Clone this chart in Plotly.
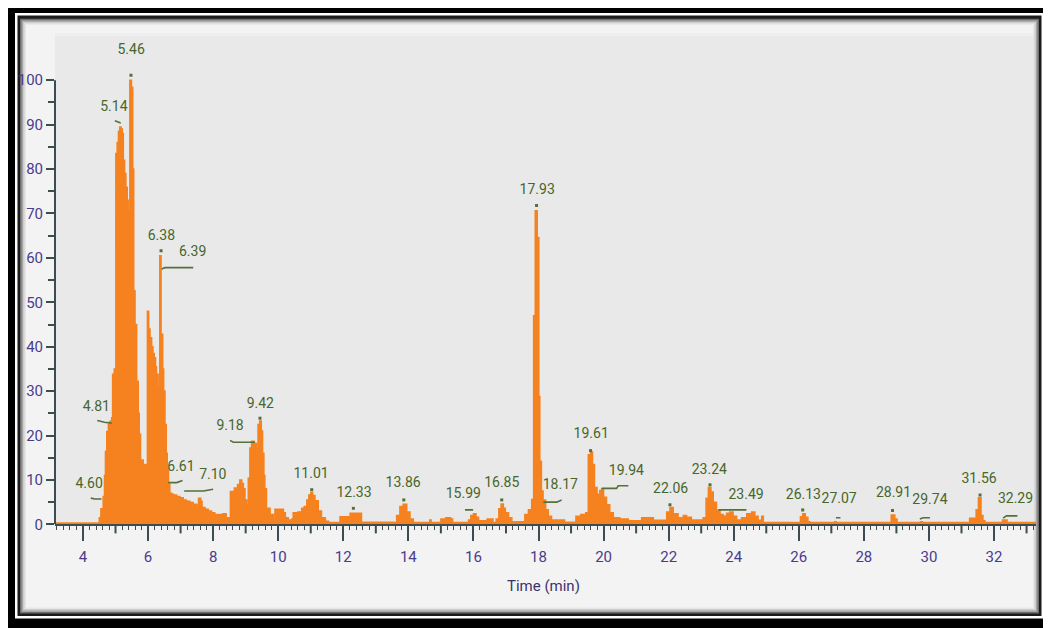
import plotly.graph_objects as go

# calibration of the page: 8px body margin, slight vertical scaling of the screenshot
OX, OY, SY = 8.0, 7.9, 0.9828
W, H = 1043, 632

# ---------------- data ----------------
rt_min = [3.14, 4.45, 4.50, 4.55, 4.62, 4.66, 4.69, 4.73, 4.78, 4.83, 4.88, 4.91, 4.96,
          5.01, 5.05, 5.09, 5.13, 5.17, 5.21, 5.24, 5.28, 5.32, 5.36, 5.39, 5.44, 5.49,
          5.53, 5.56, 5.60, 5.65, 5.70, 5.73, 5.77, 5.81, 5.85, 5.90, 5.94, 5.98, 6.02,
          6.06, 6.11, 6.15, 6.19, 6.23, 6.26, 6.31, 6.36, 6.40, 6.45, 6.48, 6.52, 6.56,
          6.59, 6.63, 6.67, 6.73, 6.78, 6.88, 6.98, 7.08, 7.18, 7.29, 7.39, 7.49, 7.55,
          7.62, 7.66, 7.75, 7.85, 7.95, 8.05, 8.20, 8.30, 8.40, 8.53, 8.65, 8.75, 8.82,
          8.88, 8.93, 8.98, 9.03, 9.08, 9.13, 9.18, 9.26, 9.33, 9.38, 9.43, 9.48, 9.52,
          9.56, 9.59, 9.64, 9.75, 9.85, 9.90, 10.00, 10.11, 10.16, 10.22, 10.31, 10.42,
          10.46, 10.60, 10.72, 10.80, 10.88, 10.94, 11.00, 11.06, 11.13, 11.23, 11.33,
          11.45, 11.55, 11.90, 12.15, 12.21, 12.51, 12.56, 13.55, 13.64, 13.74, 13.84,
          13.95, 14.05, 14.15, 14.62, 14.66, 14.70, 15.00, 15.15, 15.30, 15.36, 15.85,
          15.92, 16.00, 16.08, 16.16, 16.42, 16.55, 16.60, 16.70, 16.78, 16.85, 16.92,
          16.98, 17.08, 17.18, 17.50, 17.58, 17.69, 17.79, 17.85, 17.90, 17.96, 18.01,
          18.04, 18.09, 18.14, 18.22, 18.30, 18.40, 18.70, 18.80, 19.10, 19.15, 19.30,
          19.45, 19.53, 19.60, 19.66, 19.72, 19.80, 19.88, 19.94, 20.00, 20.09, 20.19,
          20.30, 20.50, 20.76, 21.10, 21.17, 21.42, 21.53, 21.94, 22.04, 22.14, 22.29,
          22.40, 22.45, 22.55, 22.70, 23.06, 23.15, 23.22, 23.30, 23.37, 23.47, 23.58,
          23.68, 23.78, 23.88, 23.98, 24.09, 24.24, 24.40, 24.55, 24.65, 24.75, 24.82,
          24.86, 24.91, 26.00, 26.05, 26.12, 26.20, 26.28, 26.34, 27.05, 27.10, 27.15,
          28.80, 28.84, 28.95, 29.02, 29.70, 29.74, 29.80, 31.20, 31.25, 31.45, 31.52,
          31.60, 31.66, 31.72, 32.22, 32.26, 32.40, 33.30]
intensity = [0.3, 0.3, 1.5, 3.5, 6.3, 11.0, 16.4, 20.9, 22.5, 23.2, 24.0, 33.8, 35.0,
             83.5, 86.0, 88.5, 89.5, 89.0, 88.0, 82.0, 79.0, 75.9, 73.0, 70.6, 100.0, 98.4,
             80.0, 52.6, 45.0, 32.2, 25.0, 20.3, 13.8, 14.5, 13.3, 13.5, 13.0, 48.0, 44.0,
             42.0, 40.0, 38.5, 37.5, 35.5, 33.8, 31.0, 60.5, 42.8, 35.0, 30.0, 22.5, 16.0,
             12.7, 9.0, 7.0, 6.8, 6.6, 6.3, 6.0, 5.5, 5.2, 4.9, 4.5, 4.3, 5.9,
             5.2, 3.8, 3.4, 3.0, 2.6, 2.2, 2.2, 2.4, 1.5, 7.4, 8.2, 9.0, 10.0,
             9.2, 8.0, 5.5, 4.4, 10.4, 17.2, 18.7, 18.2, 17.0, 22.5, 23.3, 21.0, 16.0,
             11.0, 8.0, 3.6, 2.2, 1.0, 3.4, 3.4, 3.4, 2.6, 1.5, 1.0, 1.2,
             2.6, 2.8, 3.6, 4.0, 5.5, 6.6, 7.2, 6.5, 5.3, 3.0, 1.5,
             0.7, 0.4, 1.7, 1.7, 2.5, 2.5, 0.5, 0.4, 2.0, 4.0, 4.5,
             2.8, 1.2, 0.4, 0.4, 1.0, 0.4, 1.2, 1.5, 1.2, 0.4, 1.0,
             2.0, 2.4, 1.6, 0.8, 1.2, 1.2, 0.4, 1.2, 3.5, 4.6, 3.6,
             2.6, 1.5, 0.6, 0.6, 2.2, 3.3, 5.6, 47.0, 70.6, 64.6, 28.8,
             14.2, 7.5, 5.5, 3.3, 1.8, 1.0, 1.0, 0.5, 0.5, 1.8, 2.2,
             2.6, 15.7, 16.3, 13.5, 8.3, 6.8, 7.6, 8.0, 6.1, 4.4, 2.6,
             1.5, 1.2, 0.8, 0.8, 1.5, 1.5, 0.9, 2.8, 3.8, 2.4, 1.5,
             1.0, 2.0, 1.6, 1.0, 1.5, 5.9, 8.3, 7.3, 5.0, 3.2, 2.2,
             1.8, 2.5, 2.8, 1.8, 1.0, 1.5, 2.4, 2.8, 1.8, 0.9, 0.9,
             1.8, 0.4, 0.4, 1.7, 2.4, 1.6, 0.6, 0.4, 0.4, 0.6, 0.4,
             0.4, 2.1, 1.2, 0.4, 0.4, 0.6, 0.4, 0.4, 1.4, 3.3, 6.0,
             2.0, 0.8, 0.4, 0.4, 1.0, 0.4, 0.4]

# peak labels: text and text-centre position (min, %)
peak_labels = ["5.46", "5.14", "6.38", "6.39", "4.81", "4.60", "6.61", "7.10", "9.18",
               "9.42", "11.01", "12.33", "13.86", "15.99", "16.85", "17.93", "18.17",
               "19.61", "19.94", "22.06", "23.24", "23.49", "26.13", "27.07", "28.91",
               "29.74", "31.56", "32.29"]
label_t = [5.48, 4.95, 6.41, 7.37, 4.41, 4.19, 7.01, 7.99, 8.52, 9.45, 11.01, 12.33,
           13.84, 15.69, 16.87, 17.96, 18.67, 19.62, 20.70, 22.06, 23.25, 24.38, 26.14,
           27.24, 28.91, 30.03, 31.54, 32.66]
label_v = [106.8, 93.8, 64.8, 61.2, 26.4, 9.0, 12.8, 10.9, 22.0, 27.0, 11.3, 7.0, 9.2,
           6.7, 9.1, 75.2, 8.7, 20.2, 11.9, 7.9, 12.2, 6.6, 6.6, 5.5, 6.9, 5.3, 10.0, 5.5]

# peak apex marks
apex_t = [5.475, 6.40, 9.44, 11.03, 12.31, 13.86, 16.87, 17.94, 19.60, 22.04, 23.27,
          26.12, 28.88, 31.57]
apex_v = [101.1, 61.6, 23.9, 7.8, 3.6, 5.5, 5.5, 71.8, 16.6, 4.4, 8.9, 3.25, 3.1, 6.6]

# leader lines (min, %)
leaders = [
    ([4.98, 5.16], [90.9, 90.4]),
    ([6.42, 6.52, 7.39], [57.5, 57.8, 57.8]),
    ([4.44, 4.66, 4.88], [23.4, 23.0, 22.8]),
    ([4.24, 4.37, 4.57], [5.9, 5.7, 5.7]),
    ([6.62, 6.88, 7.06], [9.4, 9.4, 9.9]),
    ([7.11, 7.70, 8.00], [7.5, 7.5, 7.9]),
    ([8.52, 8.62, 9.29], [18.9, 18.5, 18.5]),
    ([15.74, 15.99], [3.25, 3.25]),
    ([18.15, 18.56, 18.71], [5.0, 5.0, 5.5]),
    ([19.94, 20.40, 20.45, 20.76], [8.1, 8.1, 8.7, 8.7]),
    ([23.53, 24.39], [3.25, 3.25]),
    ([27.14, 27.28], [1.5, 1.5]),
    ([29.72, 29.82, 30.03], [1.2, 1.5, 1.5]),
    ([32.28, 32.38, 32.72], [1.4, 1.9, 1.9]),
]

x_ticks = [4, 6, 8, 10, 12, 14, 16, 18, 20, 22, 24, 26, 28, 30, 32]
y_ticks = [0, 10, 20, 30, 40, 50, 60, 70, 80, 90, 100]
y_minor = [5, 15, 25, 35, 45, 55, 65, 75, 85, 95]

# ---------------- styling ----------------
ORANGE = "#f5821f"
LBL = "#46662a"
LEAD = "#55703a"
TICKC = "#3b4d50"
TICKLBL = "#4a3c8c"
FONT = "Roboto, Liberation Sans, sans-serif"

# reference page-pixel geometry
PX0, PX1 = 55, 1036      # plot area left/right
PY0, PY1 = 33, 522.7     # plot area top / x-axis
XR = [3.14, 33.29]
YR = [0, 110.6]


def px(x):
    return (x - OX) / W


def py(y):
    return 1 - ((y - OY) / SY) / H


fig = go.Figure()

fig.add_trace(go.Scatter(
    x=rt_min, y=intensity, mode="lines", line=dict(color=ORANGE, width=1.5, shape="hv"),
    fill="tozeroy", fillcolor=ORANGE, hoverinfo="skip", showlegend=False))

lx, ly = [], []
for xs, ys in leaders:
    lx += xs + [None]
    ly += ys + [None]
fig.add_trace(go.Scatter(x=lx, y=ly, mode="lines", line=dict(color=LEAD, width=1.6),
                         hoverinfo="skip", showlegend=False))
fig.add_trace(go.Scatter(x=apex_t, y=apex_v, mode="markers",
                         marker=dict(color=LEAD, size=3, symbol="square"),
                         hoverinfo="skip", showlegend=False))
fig.add_trace(go.Scatter(x=label_t, y=label_v, mode="text", text=peak_labels,
                         textposition="middle center",
                         textfont=dict(family=FONT, size=14, color=LBL),
                         hoverinfo="skip", showlegend=False))

shapes = []


def rect(x0, y0, x1, y1, color):
    shapes.append(dict(type="rect", xref="paper", yref="paper", x0=px(x0), x1=px(x1),
                       y0=py(y1), y1=py(y0), fillcolor=color, line=dict(width=0),
                       layer="below"))


# outer frame
rect(7, 5, 1052, 640, "#000000")
rect(15, 13, 1044, 616.5, "#ffffff")
rect(17.5, 15.5, 1041.5, 614, "#1a1a1a")
rect(20, 18.5, 1039, 611.5, "#6e6e6e")
rect(21.5, 20, 1037.5, 610, "#a5a5a5")
rect(23, 21.5, 1036, 608.5, "#cdcdcd")
rect(24.5, 23, 1034.5, 607, "#e6e6e6")
rect(26, 24.5, 1033, 605.5, "#f3f3f3")
# plot area
rect(PX0, PY0, 1033, PY1, "#e9e9e9")
rect(PX0, PY0, 1033, PY0 + 3, "#efefef")

# y-axis line 0..100
shapes.append(dict(type="line", xref="paper", yref="y", x0=px(PX0), x1=px(PX0), y0=0,
                   y1=100, line=dict(color=TICKC, width=2)))
# medium ticks at odd minutes
for t in range(5, 34, 2):
    shapes.append(dict(type="line", xref="x", yref="paper", x0=t, x1=t, y0=py(PY1),
                       y1=py(PY1 + 9), line=dict(color=TICKC, width=2)))

fig.update_layout(
    width=W, height=H, margin=dict(l=0, r=0, t=0, b=0), autosize=False,
    paper_bgcolor="#ffffff", plot_bgcolor="rgba(0,0,0,0)",
    shapes=shapes,
    xaxis=dict(domain=[px(PX0), px(PX1)], range=XR, tickmode="array", tickvals=x_ticks,
               ticktext=[str(v) for v in x_ticks], ticks="outside", ticklen=15,
               tickwidth=2, tickcolor=TICKC, showline=True, linecolor=TICKC, linewidth=2,
               showgrid=False, zeroline=False, ticklabelstandoff=3,
               tickfont=dict(family=FONT, size=15, color=TICKLBL),
               minor=dict(dtick=0.2, tick0=0, ticks="outside", ticklen=4, tickwidth=1,
                          tickcolor=TICKC, showgrid=False)),
    yaxis=dict(domain=[py(PY1), py(PY0)], range=YR, tickmode="array", tickvals=y_ticks,
               ticktext=[str(v) for v in y_ticks], ticks="outside", ticklen=8,
               tickwidth=2, tickcolor=TICKC, showline=False, showgrid=False,
               zeroline=False,
               tickfont=dict(family=FONT, size=15, color=TICKLBL),
               minor=dict(tickmode="array", tickvals=y_minor, ticks="outside", ticklen=6,
                          tickwidth=2, tickcolor=TICKC, showgrid=False)),
    annotations=[dict(text="Time (min)", xref="paper", yref="paper", x=px(543.5),
                      y=py(584), showarrow=False, xanchor="center", yanchor="middle",
                      font=dict(family=FONT, size=15, color="#3a3470"))],
)

fig.write_html("out.html")
